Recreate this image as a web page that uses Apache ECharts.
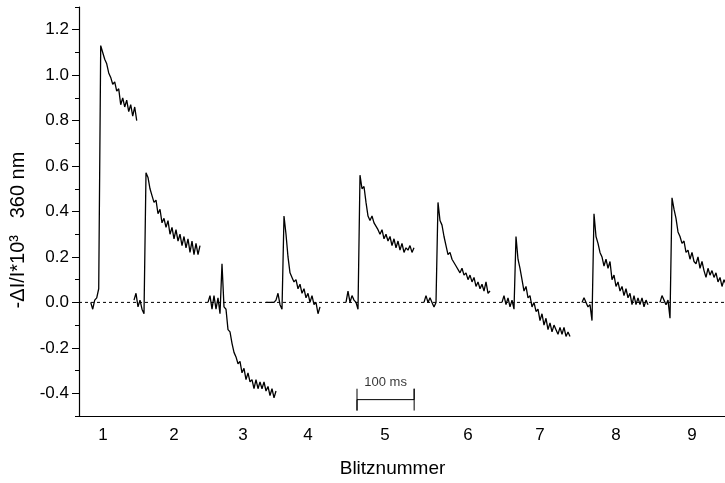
<!DOCTYPE html>
<html>
<head>
<meta charset="utf-8">
<script src="https://cdn.jsdelivr.net/npm/echarts@6/dist/echarts.min.js"></script>
<style>
  html, body { margin: 0; padding: 0; background: #ffffff; }
  #chart { width: 725px; height: 483px; }
</style>
</head>
<body>
<div id="chart"></div>
<script>
// Flash numbers and where they sit on the time axis (ms)
const flashLabels = ['1', '2', '3', '4', '5', '6', '7', '8', '9'];
const flashLabelTimes = [42, 166.25, 287, 400.75, 535.5, 680.75, 806.75, 939.75, 1072.75];

// Y tick labels
const yTickLabels = [-0.4, -0.2, 0.0, 0.2, 0.4, 0.6, 0.8, 1.0, 1.2];

// Absorption transients, one per flash: sampled every sampleStep ms from traceStarts[i]
const sampleStep = 3.5;
const traceStarts = [20.5, 96.25, 225.75, 327.25, 467.25, 603.75, 740.25, 880.25, 1016.75];

const trace1 = [0.00, -0.03, 0.01, 0.02, 0.06, 1.13, 1.10, 1.07, 1.05, 1.01, 0.99, 0.96,
  0.97, 0.93, 0.94, 0.87, 0.90, 0.86, 0.89, 0.84, 0.87, 0.82, 0.86, 0.80];
const trace2 = [0.01, 0.04, -0.02, 0.01, -0.03, -0.05, 0.57, 0.55, 0.50, 0.47, 0.44, 0.45,
  0.39, 0.41, 0.35, 0.37, 0.33, 0.36, 0.30, 0.33, 0.28, 0.32, 0.27, 0.30, 0.25, 0.29,
  0.24, 0.28, 0.22, 0.27, 0.21, 0.26, 0.21, 0.25];
const trace3 = [0.00, 0.03, -0.03, 0.03, -0.03, 0.02, -0.05, 0.17, -0.02, -0.03, -0.12,
  -0.13, -0.18, -0.22, -0.24, -0.27, -0.26, -0.31, -0.29, -0.34, -0.31, -0.35, -0.34,
  -0.38, -0.34, -0.38, -0.35, -0.38, -0.35, -0.39, -0.37, -0.41, -0.38, -0.42, -0.39];
const trace4 = [0.00, 0.00, 0.00, 0.00, 0.00, 0.01, 0.04, -0.01, -0.03, 0.38, 0.30, 0.20,
  0.13, 0.11, 0.09, 0.10, 0.06, 0.08, 0.04, 0.06, 0.02, 0.04, 0.00, 0.03, -0.01, 0.00,
  -0.05, -0.02];
const trace5 = [0.00, 0.05, 0.00, 0.03, 0.01, 0.00, -0.03, 0.56, 0.50, 0.51, 0.44, 0.38,
  0.36, 0.38, 0.35, 0.35, 0.32, 0.30, 0.32, 0.28, 0.30, 0.27, 0.29, 0.25, 0.28, 0.24,
  0.27, 0.23, 0.26, 0.22, 0.24, 0.23, 0.25, 0.22, 0.24];
const trace6 = [0.00, 0.03, 0.00, 0.02, 0.00, -0.02, 0.00, 0.44, 0.36, 0.34, 0.29, 0.25,
  0.21, 0.22, 0.19, 0.19, 0.16, 0.16, 0.13, 0.15, 0.12, 0.13, 0.10, 0.12, 0.09, 0.11,
  0.07, 0.09, 0.06, 0.08, 0.05, 0.09, 0.04, 0.05];
const trace7 = [0.00, 0.03, -0.01, 0.02, -0.02, 0.01, -0.03, 0.29, 0.19, 0.15, 0.10, 0.05,
  0.07, 0.02, 0.03, -0.02, 0.00, -0.04, -0.03, -0.08, -0.05, -0.10, -0.07, -0.12, -0.09,
  -0.13, -0.10, -0.12, -0.14, -0.11, -0.14, -0.11, -0.15, -0.13, -0.15];
const trace8 = [0.00, 0.02, 0.02, -0.02, -0.01, -0.08, 0.39, 0.29, 0.26, 0.22, 0.20, 0.16,
  0.19, 0.15, 0.18, 0.10, 0.12, 0.07, 0.09, 0.05, 0.07, 0.03, 0.06, 0.02, 0.04, -0.01,
  0.03, -0.01, 0.02, -0.01, 0.02, -0.02, 0.01, -0.01];
const trace9 = [0.00, 0.03, 0.01, -0.01, 0.01, -0.07, 0.46, 0.41, 0.37, 0.31, 0.29, 0.26,
  0.27, 0.22, 0.23, 0.19, 0.22, 0.18, 0.17, 0.20, 0.15, 0.18, 0.14, 0.11, 0.15, 0.12,
  0.14, 0.11, 0.13, 0.09, 0.11, 0.07, 0.10, 0.08, 0.09];

const traces = [trace1, trace2, trace3, trace4, trace5, trace6, trace7, trace8, trace9];

// Time scale bar
const scaleBarLength = 100; // ms
const scaleBarText = '100 ms';

// Layout / styling
const scaleBarStart = 486.5;
const scaleBarY = -0.428;
const scaleBarTickHalf = 0.048;
const scaleBarTextY = -0.352;
const timeMax = 1130.5;
const font = "'Liberation Sans', Arial, Helvetica, sans-serif";

const traceSeries = traces.map((values, k) => ({
  type: 'line',
  name: 'Blitz ' + flashLabels[k],
  data: values.map((v, i) => [traceStarts[k] + i * sampleStep, v]),
  showSymbol: false,
  symbol: 'none',
  lineStyle: { color: '#000000', width: 1.3 },
  z: 3,
  silent: true
}));

const chart = echarts.init(document.getElementById('chart'), null, { renderer: 'canvas' });

chart.setOption({
  animation: false,
  backgroundColor: '#ffffff',
  textStyle: { fontFamily: font, color: '#000000' },
  grid: { left: 79, right: 0, top: 7, bottom: 67, containLabel: false },
  xAxis: {
    type: 'value',
    min: 0,
    max: timeMax,
    name: 'Blitznummer',
    nameLocation: 'middle',
    nameGap: 43,
    nameTextStyle: { fontFamily: font, fontSize: 19, color: '#000000', padding: [0, 19, 0, 0] },
    axisLine: { show: true, onZero: false, lineStyle: { color: '#000000', width: 1.2 } },
    axisTick: { show: false },
    splitLine: { show: false },
    axisLabel: {
      customValues: flashLabelTimes,
      margin: 11,
      fontFamily: font,
      fontSize: 17,
      color: '#000000',
      formatter: function (v) {
        const idx = flashLabelTimes.indexOf(v);
        return idx >= 0 ? flashLabels[idx] : '';
      }
    }
  },
  yAxis: [
    {
      type: 'value',
      min: -0.5,
      max: 1.3,
      interval: 0.1,
      position: 'left',
      name: '-ΔI/I*10³   360 nm',
      nameLocation: 'middle',
      nameRotate: 90,
      nameGap: 44,
      nameTextStyle: { fontFamily: font, fontSize: 20, color: '#000000', padding: [0, 37, 0, 0] },
      axisLine: { show: true, onZero: false, lineStyle: { color: '#000000', width: 1.2 } },
      axisTick: { show: true, customValues: yTickLabels, length: 7, inside: false,
        lineStyle: { color: '#000000', width: 1 } },
      axisLabel: {
        customValues: yTickLabels,
        margin: 10,
        fontFamily: font,
        fontSize: 17,
        color: '#000000',
        formatter: v => v.toFixed(1)
      },
      splitLine: { show: false }
    },
    {
      type: 'value',
      min: -0.5,
      max: 1.3,
      interval: 0.1,
      position: 'left',
      axisLine: { show: false },
      axisTick: { show: true, length: 4, inside: false, lineStyle: { color: '#000000', width: 1 } },
      axisLabel: { show: false },
      splitLine: { show: false }
    }
  ],
  series: [
    {
      type: 'line',
      name: 'baseline',
      data: [[0, 0], [timeMax, 0]],
      symbol: 'none',
      lineStyle: { color: '#000000', width: 1, type: [3, 3] },
      z: 2,
      silent: true
    },
    ...traceSeries,
    {
      type: 'line',
      name: 'scale',
      data: [
        [scaleBarStart, scaleBarY + scaleBarTickHalf],
        [scaleBarStart, scaleBarY - scaleBarTickHalf],
        [scaleBarStart, scaleBarY],
        [scaleBarStart + scaleBarLength, scaleBarY],
        [scaleBarStart + scaleBarLength, scaleBarY + scaleBarTickHalf],
        [scaleBarStart + scaleBarLength, scaleBarY - scaleBarTickHalf]
      ],
      symbol: 'none',
      lineStyle: { color: '#000000', width: 1 },
      silent: true
    },
    {
      type: 'scatter',
      name: 'scale label',
      data: [[scaleBarStart + scaleBarLength / 2, scaleBarTextY]],
      symbolSize: 0,
      label: {
        show: true,
        position: 'inside',
        formatter: scaleBarText,
        fontFamily: font,
        fontSize: 13,
        color: '#000000'
      },
      silent: true
    }
  ]
});
</script>
</body>
</html>
